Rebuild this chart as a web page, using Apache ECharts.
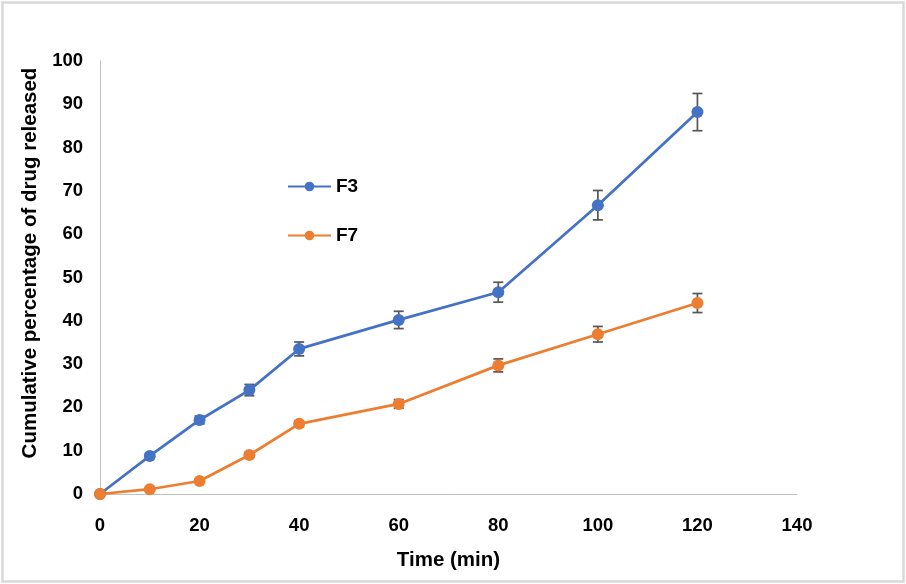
<!DOCTYPE html>
<html>
<head>
<meta charset="utf-8">
<script src="https://cdn.jsdelivr.net/npm/echarts@6/dist/echarts.min.js"></script>
<style>
html,body{margin:0;padding:0;background:#fff;}
#chart{width:906px;height:584px;}
</style>
</head>
<body>
<div id="chart"></div>
<script>
const timePoints = [0, 10, 20, 30, 40, 60, 80, 100, 120];
const f3Values = [0, 8.8, 17.1, 24.0, 33.5, 40.2, 46.6, 66.7, 88.2];
const f3Errors = [0, 0.6, 0.9, 1.3, 1.6, 2.0, 2.3, 3.4, 4.3];
const f7Values = [0, 1.1, 3.0, 9.0, 16.2, 20.8, 29.7, 36.9, 44.1];
const f7Errors = [0, 0.2, 0.4, 0.6, 0.7, 1.0, 1.5, 1.8, 2.2];
const xTicks = [0, 20, 40, 60, 80, 100, 120, 140];
const yTicks = [0, 10, 20, 30, 40, 50, 60, 70, 80, 90, 100];

const FONT = '"Liberation Sans", Arial, sans-serif';
const BLUE = '#4472c4';
const ORANGE = '#ed7d31';

function pairs(vals){ return timePoints.map((t,i)=>[t, vals[i]]); }
function errData(vals, errs){ return timePoints.map((t,i)=>[t, vals[i]-errs[i], vals[i]+errs[i]]); }

function renderErr(params, api){
  const x = api.value(0);
  const lo = api.coord([x, api.value(1)]);
  const hi = api.coord([x, api.value(2)]);
  const hw = 5;
  const style = {stroke:'#595959', lineWidth:1.75, fill:null};
  return {type:'group', children:[
    {type:'line', shape:{x1:lo[0], y1:lo[1], x2:hi[0], y2:hi[1]}, style},
    {type:'line', shape:{x1:lo[0]-hw, y1:lo[1], x2:lo[0]+hw, y2:lo[1]}, style},
    {type:'line', shape:{x1:hi[0]-hw, y1:hi[1], x2:hi[0]+hw, y2:hi[1]}, style}
  ]};
}

const chart = echarts.init(document.getElementById('chart'), null, {renderer:'canvas'});
chart.setOption({
  animation:false,
  backgroundColor:'#fff',
  textStyle:{fontFamily:FONT},
  grid:{left:100, right:109, top:61, bottom:90, containLabel:false},
  graphic:[
    {type:'rect', shape:{x:2.5, y:2.5, width:901, height:579}, style:{fill:null, stroke:'#d9d9d9', lineWidth:2.5}, silent:true},
    {type:'text', x:30, y:263, rotation:Math.PI/2,
     style:{text:'Cumulative percentage of drug released', fontFamily:FONT, fontSize:20.5, fontWeight:'bold', fill:'#000', align:'center', verticalAlign:'middle'}}
  ],
  legend:{
    orient:'vertical', left:287, top:177, padding:0, itemGap:30, itemWidth:43, itemHeight:12,
    textStyle:{fontFamily:FONT, fontSize:19, fontWeight:'bold', color:'#000'},
    data:['F3','F7']
  },
  xAxis:{
    type:'value', min:0, max:140, interval:20,
    name:'Time (min)', nameLocation:'middle', nameGap:56,
    nameTextStyle:{fontFamily:FONT, fontSize:20.5, fontWeight:'bold', color:'#000'},
    axisLine:{show:true, lineStyle:{color:'#bfbfbf', width:1}},
    axisTick:{show:false},
    splitLine:{show:false},
    axisLabel:{fontFamily:FONT, fontSize:18.5, fontWeight:'bold', color:'#000', margin:22,
      customValues:xTicks}
  },
  yAxis:{
    type:'value', min:0, max:100, interval:10,
    axisLine:{show:true, lineStyle:{color:'#bfbfbf', width:1}},
    axisTick:{show:false},
    splitLine:{show:false},
    axisLabel:{fontFamily:FONT, fontSize:18.5, fontWeight:'bold', color:'#000', margin:17,
      customValues:yTicks}
  },
  series:[
    {type:'custom', renderItem:renderErr, data:errData(f3Values,f3Errors), encode:{x:0, y:[1,2]}, z:1, silent:true},
    {type:'custom', renderItem:renderErr, data:errData(f7Values,f7Errors), encode:{x:0, y:[1,2]}, z:1, silent:true},
    {name:'F3', type:'line', data:pairs(f3Values), symbol:'circle', symbolSize:12,
     lineStyle:{color:BLUE, width:2.75}, itemStyle:{color:BLUE}, z:3},
    {name:'F7', type:'line', data:pairs(f7Values), symbol:'circle', symbolSize:12,
     lineStyle:{color:ORANGE, width:2.75}, itemStyle:{color:ORANGE}, z:3}
  ]
});
</script>
</body>
</html>
